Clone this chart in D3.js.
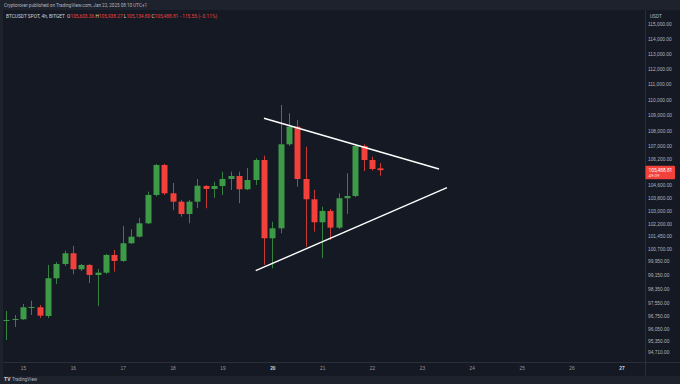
<!DOCTYPE html>
<html lang="en">
<head>
<meta charset="utf-8">
<title>BTCUSDT 4h - BITGET</title>
<script src="https://d3js.org/d3.v7.min.js"></script>
<style>
  body { margin: 0; background: #1e222d; }
  svg { display: block; font-family: Roboto, "DejaVu Sans", sans-serif; }
  .axis text { fill: #b2b5be; font-size: 4.8px; }
  .axis .domain, .axis line { display: none; }
</style>
</head>
<body>
<div id="chart"></div>
<script>
// 4h candles, first bar Jan 14 16:00
var opens  = [96483, 96540, 96580, 97228, 97268, 96769, 98952, 99793, 100427, 99480,
              99734, 99145, 99280, 100326, 99970, 101023, 101418, 102225, 103952, 105813,
              104056, 103540, 102789, 103540, 104507, 104321, 104507, 104940, 105127, 104303,
              104878, 106127, 101322, 101923, 107117, 108239, 104940, 103687, 102286, 102972,
              101960, 103749, 103890, 107010, 106127, 105603.36];
var highs  = [97056, 96826, 97459, 97649, 97401, 99734, 99911, 100581, 100861, 99793,
              99793, 99498, 100385, 100623, 102062, 101863, 102547, 104155, 105876, 105876,
              104692, 103645, 103645, 104940, 104568, 104773, 105395, 105395, 105395, 105626,
              106234, 106397, 102322, 109638, 109100, 108669, 106965, 104259, 103234, 103094,
              104056, 105295, 107073, 107117, 106334, 105938.27];
var lows   = [95404, 96141, 96540, 96826, 96655, 96655, 98619, 99675, 99186, 99380,
              98677, 97343, 99204, 99339, 99911, 100981, 101370, 102183, 103859, 103952,
              103033, 102625, 102225, 103155, 103137, 103767, 103952, 104259, 103442, 104259,
              104568, 99734, 99539, 101622, 107010, 104463, 100820, 101718, 100130, 101220,
              101881, 102789, 103829, 105438, 105457, 105134.80];
var closes = [96540, 96597, 97268, 97286, 96786, 98952, 99793, 100427, 99480, 99734,
              99145, 99280, 100326, 99970, 101023, 101418, 102225, 103952, 105813, 104056,
              103540, 102789, 103540, 104525, 104321, 104507, 104940, 105127, 104303, 104878,
              106127, 101322, 101923, 107117, 108239, 104940, 103687, 102286, 102972, 101960,
              103749, 103890, 107010, 106127, 105563, 105488.81];
var firstBarDay = 14 + 16 / 24;
var barDays = 4 / 24;

var dayTicks = [15, 16, 17, 18, 19, 20, 21, 22, 23, 24, 25, 26, 27];
var boldDays = [20, 27];
var priceTicks = [115000, 114000, 113000, 112000, 111000, 110000, 109000, 108000, 107000, 106200,
                  104600, 103800, 103000, 102200, 101450, 100700, 99950, 99150, 98350, 97550,
                  96750, 96050, 95350, 94710];

// triangle drawn by the author: [day, price]
var upperLine = [[19.833, 108778], [23.343, 105563]];
var lowerLine = [[19.667, 99398], [23.503, 104401]];

var lastPrice = 105488.81;

var W = 680, H = 384;
var plot = {left: 3, right: 645, top: 10, bottom: 362};
var green = "#3d9b47", red = "#f2413a";

var svg = d3.select("#chart").append("svg")
    .attr("width", W).attr("height", H);

// backgrounds
svg.append("rect").attr("width", W).attr("height", H).attr("fill", "#1e222d");
svg.append("rect")
    .attr("x", plot.left).attr("y", plot.top)
    .attr("width", W - plot.left).attr("height", 376 - plot.top)
    .attr("fill", "#151924");
svg.append("line")
    .attr("x1", plot.right + 0.5).attr("x2", plot.right + 0.5)
    .attr("y1", plot.top).attr("y2", 376)
    .attr("stroke", "#2a2e39");
svg.append("line")
    .attr("x1", plot.left).attr("x2", W)
    .attr("y1", plot.bottom + 0.5).attr("y2", plot.bottom + 0.5)
    .attr("stroke", "#2a2e39");

var x = d3.scaleLinear().domain([20, 27]).range([272.3, 621.4]);
var y = d3.scaleLog().domain([94710, 115000]).range([352.3, 24.3]);

svg.append("clipPath").attr("id", "clip")
  .append("rect")
    .attr("x", plot.left).attr("y", plot.top)
    .attr("width", plot.right - plot.left).attr("height", plot.bottom - plot.top);

var candles = opens.map(function(o, i) {
  return {t: firstBarDay + i * barDays, o: o, h: highs[i], l: lows[i], c: closes[i]};
});
var bodyW = (x(20 + barDays) - x(20)) * 0.72;

var g = svg.append("g").attr("clip-path", "url(#clip)");

g.selectAll(".wick").data(candles).enter().append("line")
    .attr("x1", function(d) { return Math.round(x(d.t)) + 0.5; })
    .attr("x2", function(d) { return Math.round(x(d.t)) + 0.5; })
    .attr("y1", function(d) { return y(d.h); })
    .attr("y2", function(d) { return y(d.l); })
    .attr("stroke", function(d) { return d.c >= d.o ? green : red; })
    .attr("stroke-opacity", 0.8);

g.selectAll(".body").data(candles).enter().append("rect")
    .attr("x", function(d) { return Math.round(x(d.t)) + 0.5 - bodyW / 2; })
    .attr("y", function(d) { return y(Math.max(d.o, d.c)); })
    .attr("width", bodyW)
    .attr("height", function(d) { return Math.max(1, Math.abs(y(d.o) - y(d.c))); })
    .attr("fill", function(d) { return d.c >= d.o ? green : red; });

// triangle lines
var line = d3.line().x(function(d) { return x(d[0]); }).y(function(d) { return y(d[1]); });
[upperLine, lowerLine].forEach(function(pts) {
  g.append("path").attr("d", line(pts))
    .attr("fill", "none").attr("stroke", "#ffffff").attr("stroke-width", 1.4);
});

// price axis
var yAxis = svg.append("g").attr("class", "axis")
    .attr("transform", "translate(" + (plot.right + 3) + ",0)")
    .call(d3.axisRight(y).tickValues(priceTicks).tickSize(0)
      .tickFormat(function(d) { return d3.format(",.2f")(d); }));
yAxis.selectAll("text").attr("x", 0).attr("dy", "0.35em").attr("text-anchor", "start");

svg.append("text").attr("x", 650).attr("y", 17.5)
    .attr("fill", "#b2b5be").attr("font-size", 4.8).text("USDT");

// last price label
svg.append("rect")
    .attr("x", plot.right + 0.5).attr("y", y(lastPrice) - 4.5)
    .attr("width", 29.5).attr("height", 13.5).attr("rx", 1)
    .attr("fill", red);
svg.append("text").attr("x", plot.right + 3.5).attr("y", y(lastPrice) + 1.7)
    .attr("fill", "#ffffff").attr("font-size", 4.8).text(d3.format(",.2f")(lastPrice));
svg.append("text").attr("x", plot.right + 3.5).attr("y", y(lastPrice) + 7.2)
    .attr("fill", "#ffffff").attr("fill-opacity", 0.85).attr("font-size", 4.4).text("49:09");

// time axis
var xAxis = svg.append("g").attr("class", "axis")
    .attr("transform", "translate(0," + (plot.bottom + 4) + ")")
    .call(d3.axisBottom(x).tickValues(dayTicks).tickSize(0).tickFormat(d3.format("d")));
xAxis.selectAll("text")
    .attr("dy", "0.35em").attr("y", 2)
    .attr("font-weight", function(d) { return boldDays.indexOf(d) >= 0 ? "bold" : null; })
    .style("fill", function(d) { return boldDays.indexOf(d) >= 0 ? "#d1d4dc" : "#9598a1"; });

// header
svg.append("text").attr("x", 4).attr("y", 6.6)
    .attr("fill", "#b2b5be").attr("font-size", 4.6)
    .text("Cryptorover published on TradingView.com, Jan 22, 2025 08:10 UTC+1");

var legend = svg.append("text").attr("x", 6).attr("y", 17.8).attr("font-size", 4.8);
[["BTCUSDT SPOT, 4h, BITGET  O", "#d1d4dc"], ["105,603.36", red],
 [" H", "#d1d4dc"], ["105,938.27", red],
 [" L", "#d1d4dc"], ["105,134.80", red],
 [" C", "#d1d4dc"], ["105,488.81", red],
 [" \u2212115.55 (\u22120.11%)", red]].forEach(function(p) {
  legend.append("tspan").attr("fill", p[1]).attr("xml:space", "preserve").text(p[0]);
});

// footer
svg.append("text").attr("x", 4).attr("y", 380.5)
    .attr("fill", "#d1d4dc").attr("font-size", 5).attr("font-weight", "bold").text("TV");
svg.append("text").attr("x", 12).attr("y", 380.5)
    .attr("fill", "#b2b5be").attr("font-size", 4.6).text("TradingView");
</script>
</body>
</html>
